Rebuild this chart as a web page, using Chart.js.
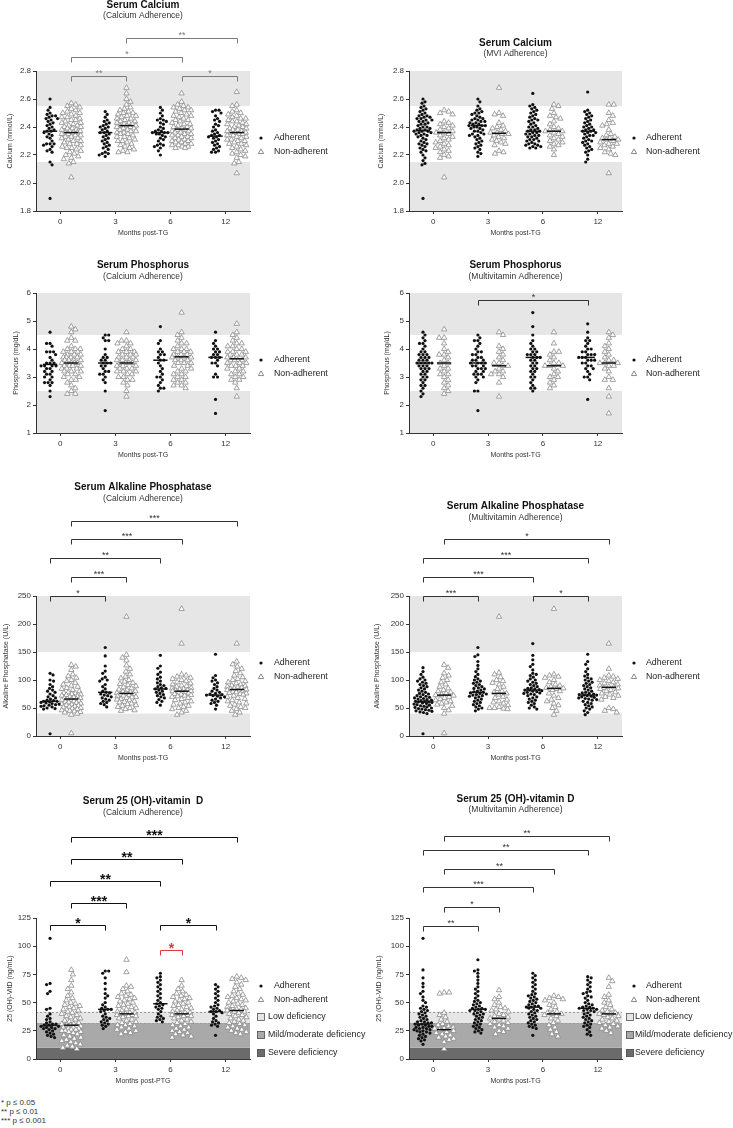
<!DOCTYPE html>
<html lang="en">
<head>
<meta charset="utf-8">
<title>Serum markers by adherence</title>
<script src="https://cdn.jsdelivr.net/npm/chart.js@4.4.1/dist/chart.umd.min.js"></script>
<style>
  html, body { margin: 0; padding: 0; background: #fff; }
  #page { position: relative; width: 733px; height: 1128px; overflow: hidden; }
  #page canvas { position: absolute; }
  #notes { position: absolute; left: 1px; top: 1098px; font: 8px/9px "Liberation Sans", Arial, sans-serif; color: #333; }
</style>
</head>
<body>
<div id="page">
  <canvas id="p1"></canvas>
  <canvas id="p2"></canvas>
  <canvas id="p3"></canvas>
  <canvas id="p4"></canvas>
  <canvas id="p5"></canvas>
  <canvas id="p6"></canvas>
  <canvas id="p7"></canvas>
  <canvas id="p8"></canvas>
  <div id="notes">* p ≤ 0.05<br>** p ≤ 0.01<br>*** p ≤ 0.001</div>
</div>
<script>
// Months post-TG, one group per month
const months = ['0', '3', '6', '12'];

// Reference ranges (shaded)
const caRange = [[1.8, 2.15], [2.55, 2.8]];
const phRange = [[1, 2.5], [4.5, 6]];
const alpRange = [[0, 40], [150, 250]];
const vdRange = [[0, 10], [10, 32], [32, 42]];
const vdRangeNames = ['Severe deficiency', 'Mild/moderate deficiency', 'Low deficiency'];

// Serum calcium (mmol/L), calcium adherence
const caCaAdh = [
  [2.60, 2.54, 2.52, 2.50, 2.49, 2.48, 2.48, 2.47, 2.46, 2.46, 2.45, 2.44, 2.43, 2.42, 2.41, 2.40, 2.39, 2.38, 2.37, 2.37, 2.36, 2.35, 2.34, 2.33, 2.32, 2.30, 2.28, 2.28, 2.28, 2.27, 2.26, 2.24, 2.23, 2.22, 2.15, 2.13, 1.89],
  [2.51, 2.49, 2.47, 2.45, 2.44, 2.43, 2.42, 2.41, 2.40, 2.40, 2.39, 2.38, 2.37, 2.36, 2.36, 2.35, 2.34, 2.33, 2.32, 2.31, 2.30, 2.29, 2.28, 2.27, 2.26, 2.25, 2.24, 2.22, 2.21, 2.21, 2.20, 2.19],
  [2.54, 2.52, 2.50, 2.48, 2.46, 2.45, 2.45, 2.44, 2.43, 2.42, 2.40, 2.39, 2.38, 2.37, 2.37, 2.36, 2.36, 2.36, 2.35, 2.35, 2.34, 2.33, 2.32, 2.31, 2.30, 2.28, 2.27, 2.27, 2.26, 2.25, 2.23, 2.20],
  [2.52, 2.52, 2.51, 2.50, 2.48, 2.46, 2.45, 2.44, 2.42, 2.41, 2.40, 2.38, 2.37, 2.36, 2.35, 2.34, 2.34, 2.33, 2.33, 2.32, 2.31, 2.30, 2.29, 2.28, 2.27, 2.26, 2.25, 2.24, 2.23, 2.22, 2.22]
];
const caCaNon = [
  [2.57, 2.56, 2.55, 2.54, 2.53, 2.52, 2.51, 2.50, 2.50, 2.49, 2.48, 2.47, 2.47, 2.46, 2.45, 2.45, 2.44, 2.43, 2.43, 2.42, 2.41, 2.41, 2.40, 2.40, 2.39, 2.39, 2.38, 2.38, 2.37, 2.37, 2.36, 2.36, 2.36, 2.35, 2.35, 2.34, 2.34, 2.33, 2.33, 2.32, 2.32, 2.31, 2.30, 2.30, 2.29, 2.28, 2.28, 2.27, 2.26, 2.25, 2.25, 2.24, 2.23, 2.22, 2.21, 2.20, 2.19, 2.18, 2.17, 2.15, 2.14, 2.04],
  [2.68, 2.64, 2.60, 2.58, 2.56, 2.54, 2.53, 2.52, 2.51, 2.50, 2.50, 2.49, 2.48, 2.48, 2.47, 2.46, 2.46, 2.45, 2.44, 2.44, 2.43, 2.43, 2.42, 2.42, 2.41, 2.41, 2.41, 2.40, 2.40, 2.39, 2.39, 2.38, 2.38, 2.37, 2.37, 2.36, 2.36, 2.35, 2.35, 2.34, 2.33, 2.33, 2.32, 2.31, 2.30, 2.30, 2.29, 2.28, 2.27, 2.26, 2.25, 2.24, 2.23, 2.22, 2.22],
  [2.64, 2.58, 2.56, 2.55, 2.54, 2.54, 2.53, 2.52, 2.52, 2.51, 2.50, 2.49, 2.48, 2.48, 2.47, 2.46, 2.45, 2.45, 2.44, 2.43, 2.42, 2.42, 2.41, 2.40, 2.40, 2.39, 2.39, 2.38, 2.38, 2.37, 2.37, 2.36, 2.36, 2.35, 2.35, 2.34, 2.34, 2.33, 2.33, 2.32, 2.32, 2.31, 2.31, 2.30, 2.30, 2.29, 2.29, 2.28, 2.28, 2.27, 2.27, 2.26, 2.26, 2.25, 2.25],
  [2.65, 2.56, 2.55, 2.52, 2.51, 2.50, 2.49, 2.48, 2.47, 2.46, 2.46, 2.45, 2.44, 2.44, 2.43, 2.42, 2.42, 2.41, 2.40, 2.40, 2.39, 2.39, 2.38, 2.38, 2.37, 2.37, 2.36, 2.36, 2.36, 2.35, 2.35, 2.34, 2.34, 2.33, 2.33, 2.32, 2.31, 2.31, 2.30, 2.30, 2.29, 2.28, 2.28, 2.27, 2.26, 2.25, 2.24, 2.23, 2.22, 2.21, 2.20, 2.19, 2.18, 2.15, 2.14, 2.07]
];
const caCaAdhMed = [2.37, 2.36, 2.36, 2.335];
const caCaNonMed = [2.36, 2.41, 2.385, 2.36];
const caCaTests = [['N1', 'N3', '**'], ['N0', 'N2', '*'], ['N0', 'N1', '**'], ['N2', 'N3', '*']];

// Serum calcium (mmol/L), MVI adherence
const caMviAdh = [
  [2.60, 2.58, 2.57, 2.55, 2.54, 2.53, 2.52, 2.51, 2.50, 2.49, 2.48, 2.48, 2.47, 2.47, 2.46, 2.46, 2.45, 2.45, 2.44, 2.44, 2.43, 2.42, 2.42, 2.41, 2.40, 2.40, 2.39, 2.39, 2.38, 2.38, 2.37, 2.37, 2.37, 2.36, 2.36, 2.35, 2.35, 2.34, 2.34, 2.33, 2.32, 2.31, 2.30, 2.29, 2.28, 2.28, 2.27, 2.26, 2.25, 2.24, 2.23, 2.22, 2.20, 2.18, 2.16, 2.14, 2.13, 1.89],
  [2.60, 2.58, 2.55, 2.53, 2.52, 2.51, 2.50, 2.50, 2.49, 2.48, 2.47, 2.46, 2.46, 2.45, 2.45, 2.44, 2.44, 2.43, 2.43, 2.42, 2.42, 2.41, 2.41, 2.41, 2.40, 2.40, 2.39, 2.39, 2.38, 2.37, 2.37, 2.36, 2.35, 2.35, 2.34, 2.34, 2.33, 2.32, 2.31, 2.30, 2.29, 2.28, 2.27, 2.26, 2.25, 2.24, 2.22, 2.21, 2.19],
  [2.64, 2.56, 2.55, 2.54, 2.53, 2.52, 2.51, 2.50, 2.49, 2.48, 2.47, 2.46, 2.45, 2.45, 2.44, 2.43, 2.42, 2.41, 2.40, 2.40, 2.39, 2.38, 2.38, 2.37, 2.37, 2.36, 2.36, 2.35, 2.35, 2.34, 2.34, 2.33, 2.33, 2.32, 2.31, 2.31, 2.30, 2.30, 2.29, 2.28, 2.28, 2.27, 2.27, 2.26, 2.26, 2.25, 2.25],
  [2.65, 2.52, 2.51, 2.50, 2.49, 2.48, 2.47, 2.46, 2.45, 2.44, 2.43, 2.42, 2.41, 2.40, 2.40, 2.39, 2.38, 2.38, 2.37, 2.37, 2.36, 2.36, 2.35, 2.34, 2.34, 2.33, 2.32, 2.31, 2.30, 2.30, 2.29, 2.28, 2.27, 2.26, 2.25, 2.24, 2.23, 2.22, 2.20, 2.17, 2.15]
];
const caMviNon = [
  [2.52, 2.51, 2.50, 2.49, 2.44, 2.43, 2.42, 2.41, 2.40, 2.39, 2.38, 2.37, 2.36, 2.36, 2.35, 2.34, 2.33, 2.32, 2.31, 2.30, 2.29, 2.28, 2.27, 2.26, 2.25, 2.24, 2.23, 2.22, 2.20, 2.19, 2.18, 2.04],
  [2.68, 2.50, 2.49, 2.48, 2.43, 2.41, 2.40, 2.39, 2.38, 2.37, 2.36, 2.36, 2.35, 2.35, 2.34, 2.33, 2.32, 2.31, 2.30, 2.29, 2.28, 2.27, 2.23, 2.22, 2.21],
  [2.56, 2.55, 2.53, 2.50, 2.48, 2.47, 2.46, 2.44, 2.42, 2.40, 2.39, 2.38, 2.37, 2.37, 2.36, 2.35, 2.34, 2.33, 2.32, 2.31, 2.30, 2.29, 2.28, 2.27, 2.26, 2.24, 2.20],
  [2.56, 2.56, 2.50, 2.48, 2.45, 2.43, 2.42, 2.41, 2.38, 2.35, 2.34, 2.33, 2.32, 2.32, 2.31, 2.31, 2.30, 2.29, 2.28, 2.28, 2.27, 2.26, 2.25, 2.24, 2.22, 2.21, 2.20, 2.07]
];
const caMviAdhMed = [2.375, 2.41, 2.37, 2.37];
const caMviNonMed = [2.36, 2.355, 2.37, 2.31];
const caMviTests = [];

// Serum phosphorus (mg/dL), calcium adherence
const phCaAdh = [
  [4.6, 4.2, 4.2, 4.1, 3.9, 3.9, 3.9, 3.8, 3.7, 3.6, 3.5, 3.5, 3.5, 3.4, 3.4, 3.4, 3.4, 3.3, 3.3, 3.2, 3.2, 3.1, 3.1, 3.0, 3.0, 2.9, 2.8, 2.8, 2.8, 2.7, 2.5, 2.3],
  [4.5, 4.5, 4.4, 4.3, 4.3, 4.0, 3.8, 3.7, 3.7, 3.6, 3.6, 3.5, 3.5, 3.5, 3.4, 3.4, 3.3, 3.2, 3.2, 3.1, 3.1, 3.0, 2.9, 2.8, 2.5, 1.8],
  [4.8, 4.3, 4.2, 4.0, 3.9, 3.9, 3.8, 3.8, 3.7, 3.6, 3.6, 3.5, 3.4, 3.3, 3.2, 3.1, 3.0, 3.0, 2.9, 2.8, 2.7, 2.6, 2.6, 2.5],
  [4.6, 4.3, 4.2, 4.1, 4.0, 4.0, 3.9, 3.9, 3.8, 3.8, 3.7, 3.7, 3.7, 3.6, 3.5, 3.5, 3.4, 3.1, 3.0, 3.0, 2.2, 1.7]
];
const phCaNon = [
  [4.8, 4.7, 4.6, 4.4, 4.3, 4.3, 4.1, 4.0, 4.0, 4.0, 3.9, 3.9, 3.9, 3.8, 3.8, 3.8, 3.7, 3.7, 3.7, 3.7, 3.6, 3.6, 3.6, 3.6, 3.5, 3.5, 3.5, 3.5, 3.5, 3.4, 3.4, 3.4, 3.4, 3.3, 3.3, 3.3, 3.2, 3.2, 3.2, 3.1, 3.1, 3.0, 3.0, 2.9, 2.9, 2.8, 2.7, 2.6, 2.5, 2.4, 2.4],
  [4.6, 4.3, 4.3, 4.2, 4.2, 4.1, 4.0, 4.0, 3.9, 3.9, 3.9, 3.8, 3.8, 3.8, 3.7, 3.7, 3.7, 3.6, 3.6, 3.6, 3.6, 3.5, 3.5, 3.5, 3.5, 3.4, 3.4, 3.4, 3.3, 3.3, 3.3, 3.2, 3.2, 3.2, 3.1, 3.1, 3.0, 3.0, 2.9, 2.9, 2.8, 2.7, 2.5, 2.3],
  [5.3, 4.6, 4.5, 4.4, 4.3, 4.2, 4.2, 4.1, 4.0, 4.0, 4.0, 3.9, 3.9, 3.9, 3.8, 3.8, 3.8, 3.7, 3.7, 3.7, 3.7, 3.6, 3.6, 3.6, 3.5, 3.5, 3.5, 3.4, 3.4, 3.3, 3.3, 3.2, 3.2, 3.1, 3.1, 3.0, 3.0, 2.9, 2.9, 2.8, 2.8, 2.7, 2.7, 2.6],
  [4.9, 4.6, 4.5, 4.4, 4.3, 4.2, 4.2, 4.1, 4.1, 4.0, 4.0, 3.9, 3.9, 3.9, 3.8, 3.8, 3.8, 3.7, 3.7, 3.7, 3.6, 3.6, 3.6, 3.6, 3.5, 3.5, 3.5, 3.4, 3.4, 3.4, 3.3, 3.3, 3.2, 3.2, 3.1, 3.1, 3.0, 3.0, 2.9, 2.9, 2.8, 2.6, 2.3]
];
const phCaAdhMed = [3.45, 3.5, 3.6, 3.7];
const phCaNonMed = [3.5, 3.5, 3.72, 3.65];
const phCaTests = [];

// Serum phosphorus (mg/dL), multivitamin adherence
const phMviAdh = [
  [4.6, 4.5, 4.4, 4.3, 4.2, 4.2, 4.1, 4.0, 3.9, 3.9, 3.8, 3.8, 3.8, 3.7, 3.7, 3.7, 3.6, 3.6, 3.6, 3.5, 3.5, 3.5, 3.5, 3.5, 3.4, 3.4, 3.4, 3.3, 3.3, 3.3, 3.2, 3.2, 3.1, 3.1, 3.0, 3.0, 2.9, 2.9, 2.8, 2.7, 2.7, 2.6, 2.5, 2.4, 2.3],
  [4.5, 4.4, 4.3, 4.3, 4.2, 4.1, 4.0, 3.9, 3.9, 3.8, 3.8, 3.7, 3.7, 3.6, 3.6, 3.6, 3.5, 3.5, 3.5, 3.5, 3.4, 3.4, 3.4, 3.3, 3.3, 3.3, 3.2, 3.2, 3.1, 3.1, 3.1, 3.0, 3.0, 2.9, 2.8, 2.5, 2.5, 1.8],
  [5.3, 4.8, 4.5, 4.3, 4.2, 4.1, 4.0, 4.0, 3.9, 3.9, 3.8, 3.8, 3.8, 3.7, 3.7, 3.7, 3.6, 3.6, 3.5, 3.5, 3.4, 3.4, 3.3, 3.3, 3.2, 3.2, 3.1, 3.0, 3.0, 2.9, 2.8, 2.7, 2.6, 2.6, 2.5],
  [4.9, 4.6, 4.4, 4.3, 4.3, 4.2, 4.1, 4.0, 4.0, 3.9, 3.9, 3.8, 3.8, 3.8, 3.7, 3.7, 3.7, 3.6, 3.6, 3.6, 3.5, 3.5, 3.4, 3.4, 3.3, 3.3, 3.2, 3.1, 3.0, 3.0, 2.9, 2.2]
];
const phMviNon = [
  [4.7, 4.4, 4.4, 4.2, 4.0, 3.9, 3.8, 3.8, 3.7, 3.6, 3.5, 3.5, 3.4, 3.3, 3.3, 3.2, 3.1, 3.1, 3.0, 2.9, 2.8, 2.7, 2.6, 2.5, 2.4],
  [4.6, 4.5, 4.1, 4.0, 3.9, 3.8, 3.7, 3.6, 3.5, 3.5, 3.4, 3.4, 3.3, 3.2, 3.2, 3.1, 3.1, 3.0, 2.8, 2.3],
  [4.6, 4.2, 3.9, 3.9, 3.8, 3.7, 3.6, 3.5, 3.5, 3.4, 3.4, 3.4, 3.3, 3.2, 3.1, 3.0, 3.0, 2.9, 2.8, 2.7, 2.6],
  [4.6, 4.5, 4.4, 4.2, 4.1, 4.0, 3.9, 3.8, 3.7, 3.6, 3.6, 3.5, 3.5, 3.5, 3.4, 3.4, 3.3, 3.2, 3.0, 2.9, 2.9, 2.6, 2.3, 1.7]
];
const phMviAdhMed = [3.5, 3.5, 3.7, 3.7];
const phMviNonMed = [3.5, 3.4, 3.4, 3.5];
const phMviTests = [['A1', 'A3', '*']];

// Serum alkaline phosphatase (U/L), calcium adherence
const alpCaAdh = [
  [112, 109, 100, 98, 92, 88, 85, 82, 80, 78, 75, 72, 70, 68, 66, 64, 63, 62, 62, 61, 60, 59, 58, 57, 56, 55, 54, 53, 52, 50, 49, 48, 4],
  [158, 143, 125, 116, 112, 105, 102, 100, 98, 92, 88, 84, 80, 78, 77, 75, 73, 72, 70, 68, 66, 64, 62, 60, 58, 56, 52],
  [144, 125, 121, 114, 110, 105, 102, 98, 95, 92, 90, 88, 86, 85, 84, 82, 80, 78, 76, 74, 72, 70, 68, 65, 62, 60, 55],
  [146, 108, 104, 100, 98, 95, 92, 88, 85, 82, 80, 78, 76, 75, 74, 73, 72, 71, 70, 68, 66, 64, 62, 60, 58, 55, 48]
];
const alpCaNon = [
  [127, 124, 118, 110, 107, 104, 100, 98, 95, 92, 90, 88, 86, 84, 82, 80, 78, 77, 76, 75, 74, 73, 72, 71, 70, 69, 68, 67, 66, 66, 65, 64, 63, 62, 61, 60, 59, 58, 57, 56, 55, 54, 53, 52, 51, 50, 49, 48, 47, 46, 45, 44, 43, 42, 40, 38, 5],
  [213, 145, 140, 135, 126, 120, 115, 110, 106, 103, 100, 97, 95, 93, 91, 89, 87, 85, 83, 82, 80, 79, 78, 77, 76, 75, 74, 73, 72, 71, 70, 69, 68, 66, 65, 64, 62, 61, 60, 58, 57, 55, 54, 52, 50, 48, 46, 45],
  [227, 165, 110, 108, 106, 104, 102, 100, 98, 96, 94, 92, 90, 89, 88, 86, 85, 84, 83, 82, 81, 80, 80, 79, 78, 77, 76, 75, 74, 73, 72, 71, 70, 68, 66, 64, 62, 60, 58, 56, 54, 52, 50, 48, 45, 42, 38],
  [165, 133, 128, 124, 120, 116, 112, 108, 105, 102, 100, 98, 96, 94, 92, 90, 89, 88, 87, 86, 85, 84, 83, 82, 81, 80, 79, 78, 77, 76, 75, 74, 72, 70, 68, 66, 64, 62, 60, 58, 56, 54, 52, 50, 48, 45, 42, 38]
];
const alpCaAdhMed = [62, 78, 84, 73];
const alpCaNonMed = [66, 76, 80, 83];
const alpCaTests = [['N0', 'N3', '***'], ['N0', 'N2', '***'], ['A0', 'A2', '**'], ['N0', 'N1', '***'], ['A0', 'A1', '*']];

// Serum alkaline phosphatase (U/L), multivitamin adherence
const alpMviAdh = [
  [122, 115, 110, 105, 102, 100, 98, 96, 94, 92, 90, 88, 86, 84, 82, 80, 78, 76, 75, 74, 72, 71, 70, 69, 68, 67, 66, 65, 64, 63, 62, 62, 61, 61, 60, 59, 58, 57, 56, 55, 54, 53, 52, 51, 50, 49, 48, 47, 46, 45, 44, 43, 42, 40, 4],
  [158, 145, 142, 133, 126, 120, 115, 110, 106, 102, 100, 98, 96, 94, 92, 90, 88, 86, 85, 84, 82, 80, 79, 78, 77, 76, 75, 74, 73, 72, 71, 70, 68, 66, 64, 62, 60, 58, 56, 54, 52, 50, 48, 45],
  [165, 144, 136, 128, 124, 118, 112, 110, 108, 105, 102, 100, 98, 96, 94, 92, 90, 88, 86, 85, 84, 83, 82, 82, 81, 80, 79, 78, 77, 76, 75, 74, 72, 70, 68, 66, 64, 62, 60, 58, 55, 52, 50, 48],
  [146, 133, 128, 120, 115, 110, 107, 104, 102, 100, 98, 96, 94, 92, 90, 88, 86, 84, 82, 80, 78, 77, 76, 75, 74, 73, 73, 72, 71, 70, 69, 68, 67, 66, 65, 64, 62, 60, 58, 56, 54, 52, 50, 48, 45, 42, 38]
];
const alpMviNon = [
  [127, 122, 112, 108, 104, 100, 96, 92, 88, 85, 82, 80, 78, 76, 74, 73, 72, 70, 68, 66, 64, 62, 60, 58, 56, 54, 50, 46, 40, 5],
  [213, 113, 110, 105, 100, 98, 95, 92, 88, 84, 80, 78, 76, 74, 70, 68, 65, 62, 60, 58, 55, 52, 50, 50, 49, 48],
  [227, 110, 108, 106, 104, 100, 96, 92, 90, 88, 86, 85, 84, 82, 80, 76, 72, 68, 65, 62, 58, 55, 50, 45, 38],
  [165, 120, 108, 106, 104, 102, 100, 98, 96, 94, 92, 90, 88, 87, 86, 85, 84, 82, 80, 78, 76, 74, 72, 70, 68, 65, 50, 48, 45, 42]
];
const alpMviAdhMed = [61, 78, 82, 73];
const alpMviNonMed = [73, 76, 85, 87];
const alpMviTests = [['N0', 'N3', '*'], ['A0', 'A3', '***'], ['A0', 'A2', '***'], ['A0', 'A1', '***'], ['A2', 'A3', '*']];

// Serum 25 (OH)-vitamin D (ng/mL), calcium adherence
const vdCaAdh = [
  [107, 67, 66, 60, 58, 45, 44, 40, 38, 36, 35, 33, 32, 31, 31, 30, 30, 29, 29, 28, 28, 27, 27, 26, 25, 24, 23, 22, 21, 20, 19],
  [78, 78, 76, 72, 67, 62, 58, 56, 54, 50, 48, 46, 45, 44, 44, 43, 42, 40, 38, 37, 36, 35, 34, 33, 32, 31, 30, 29, 27],
  [76, 73, 72, 70, 68, 66, 64, 62, 60, 58, 56, 54, 52, 50, 49, 48, 47, 46, 45, 44, 42, 40, 38, 37, 36, 35, 34, 33],
  [66, 64, 62, 60, 58, 56, 54, 52, 50, 48, 47, 46, 45, 44, 43, 42, 42, 41, 40, 38, 36, 34, 33, 32, 31, 30, 29, 21]
];
const vdCaNon = [
  [79, 75, 70, 65, 62, 59, 56, 54, 52, 50, 49, 48, 47, 46, 45, 44, 43, 42, 41, 40, 39, 38, 37, 36, 35, 34, 33, 32, 31, 31, 30, 30, 29, 29, 28, 28, 27, 27, 26, 26, 25, 25, 24, 24, 23, 22, 21, 20, 19, 18, 17, 16, 15, 14, 13, 12, 11, 10, 9],
  [88, 77, 65, 64, 62, 60, 58, 57, 56, 55, 54, 53, 52, 51, 50, 49, 48, 47, 46, 45, 44, 43, 42, 41, 41, 40, 40, 39, 39, 38, 38, 37, 36, 35, 34, 33, 32, 31, 30, 30, 29, 28, 27, 26, 25, 24, 23, 22],
  [70, 65, 62, 60, 58, 57, 56, 55, 54, 53, 52, 51, 50, 49, 48, 47, 46, 45, 44, 43, 42, 41, 41, 40, 40, 39, 39, 38, 38, 37, 36, 35, 34, 33, 32, 31, 30, 29, 28, 27, 26, 25, 24, 23, 22, 21, 20, 19],
  [73, 72, 71, 70, 68, 66, 64, 62, 60, 58, 57, 56, 55, 54, 53, 52, 51, 50, 49, 48, 47, 46, 45, 44, 44, 43, 43, 42, 42, 41, 40, 39, 38, 37, 36, 35, 34, 33, 32, 31, 30, 29, 28, 27, 26, 25, 24, 23, 22]
];
const vdCaAdhMed = [30, 44, 49, 42];
const vdCaNonMed = [30, 40, 40, 43];
const vdCaTests = [['N0', 'N3', '***'], ['N0', 'N2', '**'], ['A0', 'A2', '**'], ['N0', 'N1', '***'], ['A0', 'A1', '*'], ['A2', 'A3', '*'], ['A2', 'N2', '*']];

// Serum 25 (OH)-vitamin D (ng/mL), multivitamin adherence
const vdMviAdh = [
  [107, 79, 72, 67, 64, 60, 58, 55, 52, 50, 47, 46, 45, 44, 43, 42, 41, 40, 39, 38, 37, 36, 35, 34, 33, 33, 32, 32, 31, 31, 30, 30, 29, 29, 28, 28, 27, 27, 26, 26, 25, 25, 24, 24, 23, 22, 21, 20, 19, 18, 17, 16, 13],
  [88, 79, 78, 76, 73, 70, 67, 64, 62, 60, 58, 56, 54, 52, 51, 50, 49, 48, 47, 46, 45, 45, 44, 44, 43, 43, 42, 41, 40, 40, 39, 38, 37, 36, 35, 34, 33, 32, 31, 30, 29, 28, 27, 26, 25, 24, 23],
  [76, 74, 72, 70, 68, 66, 64, 62, 60, 58, 57, 56, 55, 54, 53, 52, 51, 50, 49, 48, 47, 47, 46, 46, 45, 45, 44, 43, 42, 41, 40, 39, 38, 37, 36, 35, 34, 33, 32, 31, 30, 29, 28, 27, 21],
  [73, 72, 70, 68, 66, 64, 62, 60, 59, 58, 56, 55, 54, 52, 50, 49, 48, 47, 46, 46, 45, 45, 44, 44, 43, 43, 42, 41, 40, 39, 38, 37, 36, 35, 34, 33, 32, 31, 30, 29, 28, 26, 24, 22, 21]
];
const vdMviNon = [
  [59, 59, 58, 41, 39, 37, 35, 33, 31, 30, 29, 28, 27, 27, 26, 26, 25, 24, 23, 22, 21, 20, 19, 18, 17, 15, 9],
  [61, 55, 53, 50, 48, 46, 45, 44, 43, 42, 40, 39, 38, 37, 36, 35, 34, 33, 32, 31, 30, 29, 28, 27, 25, 24, 22],
  [56, 55, 54, 53, 52, 50, 48, 46, 44, 42, 41, 40, 40, 39, 38, 36, 34, 32, 30, 28, 26, 24, 22, 20],
  [72, 69, 64, 57, 55, 52, 50, 48, 46, 44, 43, 42, 41, 40, 40, 39, 38, 37, 36, 35, 34, 33, 32, 31, 30, 29, 28, 27, 25, 23]
];
const vdMviAdhMed = [31, 44, 46, 45];
const vdMviNonMed = [26, 36, 40, 40];
const vdMviTests = [['N0', 'N3', '**'], ['A0', 'A3', '**'], ['N0', 'N2', '**'], ['A0', 'A2', '***'], ['N0', 'N1', '*'], ['A0', 'A1', '**']];

// ---- layout & style ----
const FONT = '"Liberation Sans", Arial, sans-serif';
const X_MIN = -0.44, X_MAX = 3.44;
const ADH_SHIFT = -0.185, NON_SHIFT = 0.2, MED_HALF = 0.13;
const PLOT_W = 214, PLOT_H = 140;
const X_PX = PLOT_W / (X_MAX - X_MIN);
const LIGHT = '#e6e6e6';
const vdColors = ['#6b6b6b', '#a9a9a9', '#e6e6e6'];

Chart.defaults.font.family = FONT;
Chart.defaults.color = '#333';

const LEFT = { x: 0, w: 366, area: [36, 250], legend: { mark: 11, text: 24, box: 7, boxText: 18 } };
const RIGHT = { x: 366, w: 367, area: [43, 256], legend: { mark: 12, text: 24, box: 4, boxText: 13 } };

const panels = [
  { id: 'p1', side: LEFT, top: 0, h: 250, areaY: [71, 211], titleY: [5.5, 16],
    title: 'Serum Calcium', subtitle: '(Calcium Adherence)', yTitle: 'Calcium (mmol/L)', yTitleX: 10, xTitle: 'Months post-TG',
    adh: caCaAdh, non: caCaNon, adhMed: caCaAdhMed, nonMed: caCaNonMed, y: [1.8, 2.8, 0.2, 1],
    bands: caRange, tests: caCaTests, levels: [-33, -14, 5, 5], bracketColor: '#7a7a7a', starSize: 9 },
  { id: 'p2', side: RIGHT, top: 0, h: 250, areaY: [71, 211], titleY: [43.3, 54],
    title: 'Serum Calcium', subtitle: '(MVI Adherence)', yTitle: 'Calcium (mmol/L)', yTitleX: 15.5, xTitle: 'Months post-TG',
    adh: caMviAdh, non: caMviNon, adhMed: caMviAdhMed, nonMed: caMviNonMed, y: [1.8, 2.8, 0.2, 1],
    bands: caRange, tests: caMviTests, levels: [], bracketColor: '#333', starSize: 9 },
  { id: 'p3', side: LEFT, top: 250, h: 220, areaY: [43, 183], titleY: [15.3, 26.3],
    title: 'Serum Phosphorus', subtitle: '(Calcium Adherence)', yTitle: 'Phosphorus (mg/dL)', yTitleX: 16, xTitle: 'Months post-TG',
    adh: phCaAdh, non: phCaNon, adhMed: phCaAdhMed, nonMed: phCaNonMed, y: [1, 6, 1, 0],
    bands: phRange, tests: phCaTests, levels: [], bracketColor: '#333', starSize: 9 },
  { id: 'p4', side: RIGHT, top: 250, h: 220, areaY: [43, 183], titleY: [15.3, 26.3],
    title: 'Serum Phosphorus', subtitle: '(Multivitamin Adherence)', yTitle: 'Phosphorus (mg/dL)', yTitleX: 21.5, xTitle: 'Months post-TG',
    adh: phMviAdh, non: phMviNon, adhMed: phMviAdhMed, nonMed: phMviNonMed, y: [1, 6, 1, 0],
    bands: phRange, tests: phMviTests, levels: [7], bracketColor: '#333', starSize: 9 },
  { id: 'p5', side: LEFT, top: 470, h: 300, areaY: [126, 266], titleY: [17.3, 29],
    title: 'Serum Alkaline Phosphatase', subtitle: '(Calcium Adherence)', yTitle: 'Alkaline Phosphatase (U/L)', yTitleX: 6.3, xTitle: 'Months post-TG',
    adh: alpCaAdh, non: alpCaNon, adhMed: alpCaAdhMed, nonMed: alpCaNonMed, y: [0, 250, 50, 0],
    bands: alpRange, tests: alpCaTests, levels: [-75, -57, -38, -19, 0], bracketColor: '#333', starSize: 9 },
  { id: 'p6', side: RIGHT, top: 470, h: 300, areaY: [126, 266], titleY: [36.7, 47.7],
    title: 'Serum Alkaline Phosphatase', subtitle: '(Multivitamin Adherence)', yTitle: 'Alkaline Phosphatase (U/L)', yTitleX: 11, xTitle: 'Months post-TG',
    adh: alpMviAdh, non: alpMviNon, adhMed: alpMviAdhMed, nonMed: alpMviNonMed, y: [0, 250, 50, 0],
    bands: alpRange, tests: alpMviTests, levels: [-57, -38, -19, 0, 0], bracketColor: '#333', starSize: 9 },
  { id: 'p7', side: LEFT, top: 770, h: 325, areaY: [148, 289], titleY: [31.7, 42.7],
    title: 'Serum 25 (OH)-vitamin  D', subtitle: '(Calcium Adherence)', yTitle: '25 (OH)-VitD (ng/mL)', yTitleX: 10.5, xTitle: 'Months post-PTG',
    adh: vdCaAdh, non: vdCaNon, adhMed: vdCaAdhMed, nonMed: vdCaNonMed, y: [0, 125, 25, 0],
    bands: vdRange, vitD: true, tests: vdCaTests, levels: [-81, -59, -37, -15, 7, 7, 32], red: [6], bracketColor: '#111', starSize: 14 },
  { id: 'p8', side: RIGHT, top: 770, h: 325, areaY: [148, 289], titleY: [29.3, 40],
    title: 'Serum 25 (OH)-vitamin D', subtitle: '(Multivitamin Adherence)', yTitle: '25 (OH)-VitD (ng/mL)', yTitleX: 12.8, xTitle: 'Months post-TG',
    adh: vdMviAdh, non: vdMviNon, adhMed: vdMviAdhMed, nonMed: vdMviNonMed, y: [0, 125, 25, 0],
    bands: vdRange, vitD: true, tests: vdMviTests, levels: [-82, -68, -49, -31, -11, 8], bracketColor: '#333', starSize: 9 }
];

// Greedy beeswarm: horizontal offsets (px) so markers do not overlap
function beeswarm(vals, diam, maxW, yPx) {
  const order = vals.map((v, i) => i).sort((a, b) => vals[b] - vals[a]);
  const placed = [];
  const offs = new Array(vals.length).fill(0);
  order.forEach((i, n) => {
    const y = vals[i] * yPx;
    const near = placed.filter(p => Math.abs(p.y - y) < diam);
    let pick = 0, fallback = 0, fbGap = -1, found = false;
    for (let d = 0; d <= maxW && !found; d += 0.5) {
      const cands = d === 0 ? [0] : (n % 2 ? [d, -d] : [-d, d]);
      for (const x of cands) {
        const gap = near.reduce((m, p) => Math.min(m, Math.hypot(p.x - x, p.y - y)), Infinity);
        if (gap >= diam) { pick = x; found = true; break; }
        if (gap > fbGap) { fbGap = gap; fallback = x; }
      }
    }
    if (!found) pick = fallback;
    placed.push({ x: pick, y });
    offs[i] = pick;
  });
  return offs;
}

function swarmPoints(groups, shift, diam, maxW, yPx) {
  const pts = [];
  groups.forEach((vals, cat) => {
    const offs = beeswarm(vals, diam, maxW, yPx);
    vals.forEach((v, i) => pts.push({ x: cat + shift + offs[i] / X_PX, y: v }));
  });
  return pts;
}

function groupX(key) {
  return Number(key[1]) + (key[0] === 'A' ? ADH_SHIFT : NON_SHIFT);
}

function decorPlugin(p) {
  return {
    id: 'decor_' + p.id,
    beforeDraw(chart) {
      const { ctx, chartArea: a, scales: { y } } = chart;
      ctx.save();
      p.bands.forEach(([lo, hi], i) => {
        const top = y.getPixelForValue(hi), bot = y.getPixelForValue(lo);
        ctx.fillStyle = p.vitD ? vdColors[i] : LIGHT;
        ctx.fillRect(a.left, top, a.right - a.left, bot - top);
      });
      if (p.vitD) {
        ctx.strokeStyle = '#9a9a9a';
        ctx.lineWidth = 1;
        ctx.setLineDash([2, 2]);
        [p.bands[1][1], p.bands[2][1]].forEach(v => {
          const yy = Math.round(y.getPixelForValue(v)) + 0.5;
          ctx.beginPath();
          ctx.moveTo(a.left, yy);
          ctx.lineTo(a.right, yy);
          ctx.stroke();
        });
      }
      ctx.restore();
    },
    afterDraw(chart) {
      const { ctx, chartArea: a, scales: { x } } = chart;
      ctx.save();
      const cx = (a.left + a.right) / 2;
      ctx.textAlign = 'center';
      ctx.textBaseline = 'middle';
      ctx.fillStyle = '#111';
      ctx.font = 'bold 10px ' + FONT;
      ctx.fillText(p.title, cx, p.titleY[0]);
      ctx.fillStyle = '#333';
      ctx.font = '8.5px ' + FONT;
      ctx.fillText(p.subtitle, cx, p.titleY[1]);

      // significance brackets
      ctx.textBaseline = 'alphabetic';
      p.tests.forEach(([from, to, stars], i) => {
        const col = (p.red || []).includes(i) ? '#e03a3a' : p.bracketColor;
        const x1 = Math.round(x.getPixelForValue(groupX(from))) + 0.5;
        const x2 = Math.round(x.getPixelForValue(groupX(to))) + 0.5;
        const yy = Math.round(a.top + p.levels[i]) + 0.5;
        ctx.strokeStyle = col;
        ctx.lineWidth = 1;
        ctx.beginPath();
        ctx.moveTo(x1, yy + 5);
        ctx.lineTo(x1, yy);
        ctx.lineTo(x2, yy);
        ctx.lineTo(x2, yy + 5);
        ctx.stroke();
        ctx.fillStyle = col;
        ctx.font = (p.starSize > 10 ? 'bold ' : '') + p.starSize + 'px ' + FONT;
        ctx.fillText(stars, (x1 + x2) / 2, yy + (p.starSize > 10 ? 2 : -1));
      });

      // legend
      const L = p.side.legend;
      const lx = a.right;
      ctx.textAlign = 'left';
      ctx.textBaseline = 'middle';
      ctx.font = '8.8px ' + FONT;
      let yy = a.bottom - 73;
      ctx.fillStyle = '#111';
      ctx.beginPath();
      ctx.arc(lx + L.mark, yy, 1.6, 0, Math.PI * 2);
      ctx.fill();
      ctx.fillStyle = '#222';
      ctx.fillText('Adherent', lx + L.text, yy);
      yy = a.bottom - 59;
      ctx.fillStyle = '#fff';
      ctx.strokeStyle = '#8a8a8a';
      Chart.helpers.drawPoint(ctx, { pointStyle: 'triangle', radius: 3.1, borderWidth: 0.8, rotation: 0 }, lx + L.mark, yy);
      ctx.fillStyle = '#222';
      ctx.fillText('Non-adherent', lx + L.text, yy);
      if (p.vitD) {
        [2, 1, 0].forEach((bi, k) => {
          const by = a.bottom - 42 + k * 18;
          ctx.fillStyle = vdColors[bi];
          ctx.fillRect(lx + L.box, by - 4, 8, 8);
          ctx.strokeStyle = '#555';
          ctx.lineWidth = 0.8;
          ctx.strokeRect(lx + L.box + 0.5, by - 3.5, 7, 7);
          ctx.fillStyle = '#222';
          ctx.fillText(vdRangeNames[bi], lx + L.boxText, by);
        });
      }
      ctx.restore();
    }
  };
}

function makePanel(p) {
  const canvas = document.getElementById(p.id);
  canvas.width = p.side.w;
  canvas.height = p.h;
  canvas.style.left = p.side.x + 'px';
  canvas.style.top = p.top + 'px';

  const [yMin, yMax, yStep, yDec] = p.y;
  const yPx = PLOT_H / (yMax - yMin);
  const datasets = [];

  p.adhMed.forEach((m, c) => datasets.push({
    showLine: true, data: [{ x: c + ADH_SHIFT - MED_HALF, y: m }, { x: c + ADH_SHIFT + MED_HALF, y: m }],
    borderColor: '#111', borderWidth: 1.5, pointRadius: 0, order: 0
  }));
  p.nonMed.forEach((m, c) => datasets.push({
    showLine: true, data: [{ x: c + NON_SHIFT - MED_HALF, y: m }, { x: c + NON_SHIFT + MED_HALF, y: m }],
    borderColor: '#111', borderWidth: 1.5, pointRadius: 0, order: 0
  }));
  datasets.push({
    label: 'Adherent', data: swarmPoints(p.adh, ADH_SHIFT, 3.3, 9, yPx),
    pointStyle: 'circle', pointRadius: 1.6, backgroundColor: '#111', borderWidth: 0, order: 1
  });
  datasets.push({
    label: 'Non-adherent', data: swarmPoints(p.non, NON_SHIFT, 4.6, 9.5, yPx),
    pointStyle: 'triangle', pointRadius: 3.1, backgroundColor: '#fff', borderColor: '#8a8a8a', borderWidth: 0.8, order: 2
  });

  const [aL, aR] = p.side.area;
  const yw = aL - 2;
  new Chart(canvas, {
    type: 'scatter',
    data: { datasets },
    plugins: [decorPlugin(p)],
    options: {
      responsive: false,
      animation: false,
      devicePixelRatio: 1,
      events: [],
      layout: { padding: { top: p.areaY[0], left: 2, right: p.side.w - aR, bottom: p.h - p.areaY[1] - 30 } },
      plugins: { legend: { display: false }, tooltip: { enabled: false } },
      scales: {
        x: {
          type: 'linear', min: X_MIN, max: X_MAX,
          afterBuildTicks: s => { s.ticks = months.map((m, i) => ({ value: i })); },
          afterFit: s => { s.height = 30; },
          ticks: { callback: v => months[v], font: { size: 8 }, padding: 3, color: '#333' },
          grid: { drawOnChartArea: false, tickLength: 3, color: '#333' },
          border: { color: '#333', width: 1 },
          title: { display: true, text: p.xTitle, font: { size: 7 }, padding: { top: 0, bottom: 4 }, color: '#333' }
        },
        y: {
          min: yMin, max: yMax,
          afterFit: s => { s.width = yw; },
          ticks: { stepSize: yStep, callback: v => Number(v).toFixed(yDec), font: { size: 8 }, padding: 2, color: '#333' },
          grid: { drawOnChartArea: false, tickLength: 3, color: '#333' },
          border: { color: '#333', width: 1 },
          title: { display: true, text: p.yTitle, font: { size: 7 }, padding: { top: p.yTitleX - 2 - 4.2, bottom: 0 }, color: '#333' }
        }
      }
    }
  });
}

panels.forEach(makePanel);
</script>
</body>
</html>
